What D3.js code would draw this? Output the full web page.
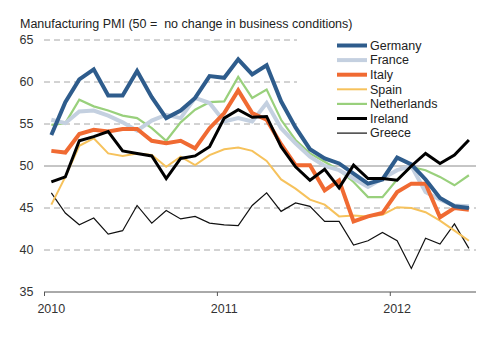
<!DOCTYPE html>
<html>
<head>
<meta charset="utf-8">
<script src="https://cdn.jsdelivr.net/npm/d3@7"></script>
<style>
  html, body { margin: 0; padding: 0; background: #fff; }
  svg { display: block; font-family: "Liberation Sans", Arial, sans-serif; }
</style>
</head>
<body>
<svg id="chart" width="500" height="337"></svg>
<script>
// Monthly manufacturing PMI readings, Jan 2010 – Jun 2012
const months = d3.timeMonth.range(new Date(2010, 0, 1), new Date(2012, 6, 1));

const germany     = [53.7, 57.6, 60.3, 61.5, 58.4, 58.4, 61.3, 58.2, 55.7, 56.6, 58.1, 60.7, 60.5, 62.7, 60.9, 62.0, 57.7, 54.6, 52.0, 50.9, 50.3, 49.1, 47.9, 48.4, 51.0, 50.2, 48.4, 46.2, 45.2, 45.0];
const france      = [55.5, 55.1, 56.5, 56.6, 56.0, 55.2, 54.2, 55.4, 56.1, 55.7, 58.1, 57.5, 55.3, 55.7, 55.3, 57.5, 54.5, 52.7, 51.1, 50.0, 49.5, 48.5, 47.5, 48.5, 49.5, 50.0, 46.9, 46.0, 45.3, 45.2];
const italy       = [51.8, 51.6, 53.8, 54.3, 54.1, 54.4, 54.4, 53.0, 52.7, 53.0, 52.1, 54.5, 56.3, 59.0, 56.3, 55.5, 52.6, 50.1, 50.1, 47.1, 48.3, 43.4, 44.0, 44.4, 46.9, 47.9, 47.9, 43.9, 45.0, 44.8];
const spain       = [45.4, 48.7, 52.4, 53.3, 51.5, 51.2, 51.5, 51.3, 49.9, 51.1, 50.1, 51.3, 52.0, 52.2, 51.8, 50.6, 48.4, 47.3, 46.0, 45.4, 44.0, 44.1, 44.0, 44.2, 45.1, 45.0, 44.5, 43.5, 42.3, 41.1];
const netherlands = [54.9, 55.1, 57.9, 57.1, 56.6, 56.0, 55.7, 54.5, 53.0, 55.2, 56.7, 57.6, 57.7, 60.6, 58.1, 59.1, 55.5, 53.1, 51.5, 50.5, 49.5, 48.1, 46.3, 46.3, 48.4, 49.9, 49.5, 48.7, 47.7, 48.9];
const ireland     = [48.1, 48.7, 53.0, 53.5, 54.1, 51.8, 51.5, 51.2, 48.5, 50.9, 51.2, 52.3, 55.7, 56.7, 55.8, 55.9, 52.3, 49.9, 48.3, 49.6, 47.4, 50.1, 48.5, 48.5, 48.3, 50.0, 51.5, 50.3, 51.3, 53.1];
const greece      = [46.8, 44.4, 43.0, 43.8, 41.9, 42.3, 45.3, 43.2, 44.7, 43.7, 44.0, 43.2, 43.0, 42.9, 45.3, 46.8, 44.6, 45.6, 45.2, 43.4, 43.4, 40.6, 41.1, 42.1, 41.1, 37.8, 41.4, 40.7, 43.1, 40.2];

const legendNames = ["Germany", "France", "Italy", "Spain", "Netherlands", "Ireland", "Greece"];
const yTicks = [35, 40, 45, 50, 55, 60, 65];
const yearTicks = ["2010", "2011", "2012"];
const title = "Manufacturing PMI (50 =  no change in business conditions)";

const series = [
  { name: "Germany",     values: germany,     color: "#2e5c8c", width: 4 },
  { name: "France",      values: france,      color: "#c4d0e0", width: 4 },
  { name: "Italy",       values: italy,       color: "#f06a32", width: 4 },
  { name: "Spain",       values: spain,       color: "#f6c25c", width: 2 },
  { name: "Netherlands", values: netherlands, color: "#99d07c", width: 2.2 },
  { name: "Ireland",     values: ireland,     color: "#000000", width: 3 },
  { name: "Greece",      values: greece,      color: "#111111", width: 1.2 }
];
// paint order: thin lines underneath, heavy lines on top
const drawOrder = ["Greece", "Spain", "Netherlands", "France", "Italy", "Germany", "Ireland"];

const svg = d3.select("#chart");

const x = d3.scaleTime()
  .domain([new Date(2010, 0, 1), new Date(2012, 6, 1)])
  .range([44, 476]);
const y = d3.scaleLinear().domain([35, 65]).range([292, 40]);

// each reading sits in the middle of its month
const mid = d => new Date((+d + +d3.timeMonth.offset(d, 1)) / 2);

// horizontal gridlines
svg.append("g")
  .selectAll("line")
  .data(yTicks.filter(v => v !== 35))
  .join("line")
  .attr("x1", x.range()[0])
  .attr("x2", x.range()[1])
  .attr("y1", d => y(d))
  .attr("y2", d => y(d))
  .attr("stroke", d => d === 50 ? "#8c8c8c" : "#a6a6a6")
  .attr("stroke-width", 1)
  .attr("stroke-dasharray", d => d === 50 ? null : "6,4");

// y labels
svg.append("g")
  .selectAll("text")
  .data(yTicks)
  .join("text")
  .attr("x", 33.5)
  .attr("y", d => y(d))
  .attr("dy", "0.35em")
  .attr("text-anchor", "end")
  .attr("font-size", 12.5)
  .attr("fill", "#333")
  .text(d => d);

// x axis
const yearDates = yearTicks.map(s => new Date(+s, 0, 1));
const xAxis = d3.axisBottom(x)
  .tickValues(yearDates)
  .tickSize(4)
  .tickFormat("");
const ax = svg.append("g")
  .attr("transform", `translate(0,${y(35)})`)
  .call(xAxis);
ax.select(".domain").attr("stroke", "#555").attr("d", `M${x.range()[0]},0H${x.range()[1]}`);
ax.selectAll(".tick line").attr("stroke", "#555");

svg.append("g")
  .selectAll("text")
  .data(yearTicks)
  .join("text")
  .attr("x", (d, i) => x(mid(yearDates[i])))
  .attr("y", 313)
  .attr("text-anchor", "middle")
  .attr("font-size", 12.5)
  .attr("fill", "#333")
  .text(d => d);

// legend backdrop hides the gridlines behind it
svg.append("rect")
  .attr("x", 297).attr("y", 33)
  .attr("width", 185).attr("height", 111)
  .attr("fill", "#fff");

// series lines
const line = d3.line()
  .x((d, i) => x(mid(months[i])))
  .y(d => y(d));

const byName = new Map(series.map(s => [s.name, s]));
svg.append("g")
  .selectAll("path")
  .data(drawOrder.map(n => byName.get(n)))
  .join("path")
  .attr("fill", "none")
  .attr("stroke", d => d.color)
  .attr("stroke-width", d => d.width)
  .attr("stroke-linejoin", "miter")
  .attr("stroke-miterlimit", 3)
  .attr("d", d => line(d.values));

// legend
const lg = svg.append("g")
  .selectAll("g")
  .data(legendNames.map(n => byName.get(n)))
  .join("g")
  .attr("transform", (d, i) => `translate(0,${45.5 + i * 14.6})`);
lg.append("line")
  .attr("x1", 337).attr("x2", 367)
  .attr("stroke", d => d.color)
  .attr("stroke-width", d => d.width);
lg.append("text")
  .attr("x", 370)
  .attr("dy", "0.35em")
  .attr("font-size", 12.5)
  .attr("fill", "#222")
  .text(d => d.name);

// title
svg.append("text")
  .attr("x", 20)
  .attr("y", 28)
  .attr("font-size", 12.5)
  .attr("fill", "#222")
  .style("white-space", "pre")
  .text(title);
</script>
</body>
</html>
